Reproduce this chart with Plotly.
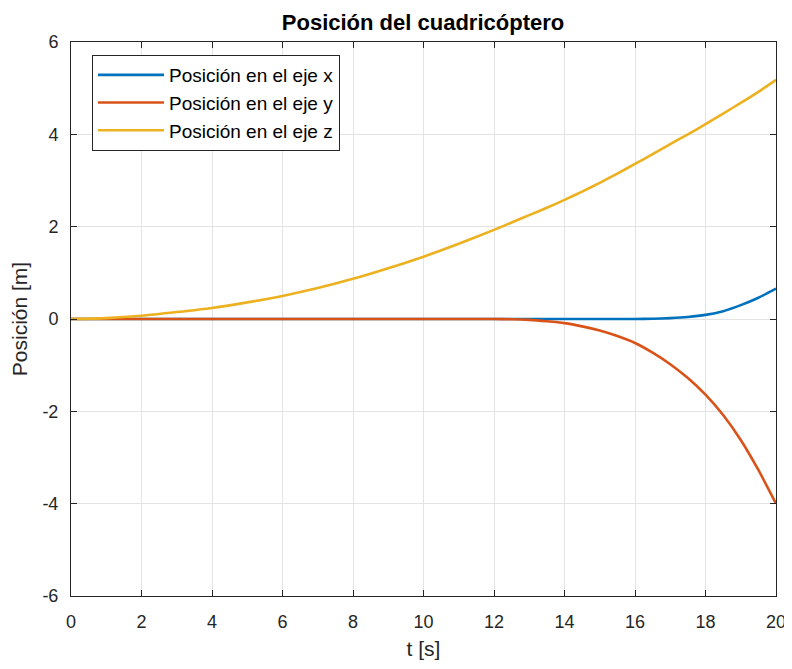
import plotly.graph_objects as go

t = [0, 1, 2, 3, 4, 5, 6, 7, 8, 9, 10, 11, 12, 12.5, 13, 13.5, 14, 14.5, 15, 15.5, 16, 16.5, 17, 17.5, 18, 18.5, 19, 19.5, 20]
pos_x = [0, 0, 0, 0, 0, 0, 0, 0, 0, 0, 0, 0, 0, 0, 0, 0, 0, 0, 0, 0, 0, 0.005, 0.02, 0.045, 0.09, 0.17, 0.3, 0.46, 0.66]
pos_y = [0, 0, 0, 0, 0, 0, 0, 0, 0, 0, 0, 0, 0, -0.005, -0.02, -0.05, -0.09, -0.16, -0.25, -0.37, -0.52, -0.73, -0.98, -1.28, -1.64, -2.08, -2.62, -3.27, -4.0]
pos_z = [0, 0.02, 0.07, 0.15, 0.24, 0.36, 0.5, 0.67, 0.87, 1.1, 1.35, 1.63, 1.93, 2.09, 2.25, 2.41, 2.58, 2.76, 2.95, 3.15, 3.36, 3.57, 3.79, 4.0, 4.22, 4.45, 4.68, 4.92, 5.18]

x_ticks = list(range(0, 21, 2))
y_ticks = list(range(-6, 7, 2))
y_ticklabels = [str(v) for v in y_ticks]  # plain hyphen minus as in reference

names = ["Posición en el eje x", "Posición en el eje y", "Posición en el eje z"]
colors = ["#0072BD", "#D95319", "#EDB120"]

fig = go.Figure()
for vals, name, c in zip([pos_x, pos_y, pos_z], names, colors):
    fig.add_trace(go.Scatter(x=t, y=vals, mode="lines", name=name,
                             line=dict(color=c, width=2.6, shape="spline", smoothing=0.6)))

axis_common = dict(showline=True, linecolor="#262626", linewidth=1, mirror="allticks",
                   ticks="inside", ticklen=6, tickcolor="#262626", showgrid=True,
                   gridcolor="#e3e3e3", gridwidth=1, zeroline=False, automargin=False,
                   tickfont=dict(size=18, color="#262626"))

# page body has an 8px margin, so the figure is 8px smaller than the window
fig.update_layout(
    width=784, height=661,
    margin=dict(l=63, r=16, t=34, b=73),
    paper_bgcolor="white", plot_bgcolor="white",
    font=dict(family="Liberation Sans, Arial, sans-serif", color="#262626"),
    title=dict(text="<b>Posición del cuadricóptero</b>", x=(423 - 8) / 784, xanchor="center",
               y=1 - 14 / 661, yanchor="middle", font=dict(size=22, color="black")),
    xaxis=dict(range=[0, 20], tickvals=x_ticks, ticklabelstandoff=9,
               title=dict(text="t [s]", font=dict(size=21), standoff=10), **axis_common),
    yaxis=dict(range=[-6, 6], tickvals=y_ticks, ticktext=y_ticklabels, ticklabelstandoff=8,
               title=dict(text="Posición [m]", font=dict(size=21), standoff=12), **axis_common),
    legend=dict(x=0.0298, y=0.9765, xanchor="left", yanchor="top",
                bgcolor="white", bordercolor="#262626", borderwidth=1,
                font=dict(size=19, color="black"), itemwidth=66),
    showlegend=True,
)

fig.write_html("out.html")
